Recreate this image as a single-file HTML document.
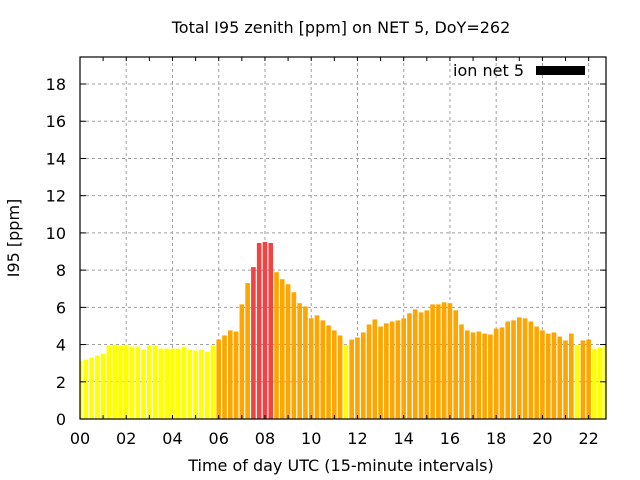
<!DOCTYPE html>
<html><head><meta charset="utf-8"><style>
body{margin:0;background:#fff}
svg{display:block;font-family:"DejaVu Sans","Liberation Sans",sans-serif}
</style></head><body>
<svg id="chart" width="640" height="480" xmlns="http://www.w3.org/2000/svg">
<text x="341" y="33" font-size="16" text-anchor="middle">Total I95 zenith [ppm] on NET 5, DoY=262</text>
<g id="grid"></g>
<g id="bars"></g>
<g id="axes"></g>
<text transform="translate(19,238) rotate(-90)" font-size="16" text-anchor="middle">I95 [ppm]</text>
<text x="341" y="471" font-size="16" text-anchor="middle">Time of day UTC (15-minute intervals)</text>
<g>
<text x="524" y="76" font-size="16" text-anchor="end">ion net 5</text>
<rect x="536" y="66" width="49" height="9" fill="#000"/>
</g>
</svg>
<script>
const values = [3.13,3.19,3.30,3.41,3.51,3.95,3.99,3.95,3.99,3.89,3.89,3.73,3.95,3.95,3.78,3.78,3.78,3.78,3.89,3.73,3.68,3.73,3.62,3.95,
4.27,4.49,4.76,4.70,6.16,7.30,8.16,9.46,9.51,9.46,7.89,7.51,7.24,6.81,6.22,6.05,5.41,5.57,5.30,5.03,4.76,4.49,3.99,4.27,4.38,4.65,5.08,5.35,4.97,5.14,5.24,5.30,5.41,5.68,5.89,5.73,
5.84,6.16,6.16,6.27,6.22,5.84,5.08,4.76,4.65,4.70,4.59,4.54,4.86,4.92,5.24,5.30,5.46,5.41,5.24,4.97,4.76,4.59,4.65,4.43,4.22,4.59,3.99,4.22,4.27,3.78,3.84,3.95];
const yTicks = [0,2,4,6,8,10,12,14,16,18];
const xTicks = [0,2,4,6,8,10,12,14,16,18,20,22];
const xTickLabels = ["00","02","04","06","08","10","12","14","16","18","20","22"];
const NS="http://www.w3.org/2000/svg";
const L=80,R=606,T=57,B=419;
const xMax=22.75, yPer=18.61;
const xs=h=>L+h*(R-L)/xMax;
const ys=v=>B-v*yPer;
function mk(tag,attrs,parent){const e=document.createElementNS(NS,tag);for(const k in attrs)e.setAttribute(k,attrs[k]);parent.appendChild(e);return e;}
const grid=document.getElementById('grid'),bars=document.getElementById('bars'),axes=document.getElementById('axes');
yTicks.forEach(v=>{
  if(v>0){const g=mk('line',{x1:L,x2:R,y1:ys(v),y2:ys(v),stroke:'#a0a0a0','stroke-dasharray':'3,3'},grid);
  
  }
  const t=mk('text',{x:L-14,y:ys(v)+6,'font-size':16,'text-anchor':'end'},axes);t.textContent=v;
  
  
  mk('line',{x1:L,x2:L+6,y1:ys(v),y2:ys(v),stroke:'#000'},axes);
  mk('line',{x1:R,x2:R-6,y1:ys(v),y2:ys(v),stroke:'#000'},axes);
});
xTicks.forEach((h,i)=>{
  if(h>0){const g=mk('line',{x1:xs(h),x2:xs(h),y1:T,y2:B,stroke:'#a0a0a0','stroke-dasharray':'3,3'},grid);
  
  }
  const t=mk('text',{x:xs(h),y:444,'font-size':16,'text-anchor':'middle'},axes);t.textContent=xTickLabels[i];
  
  
});
for(let h=1;h<xMax;h++){mk('line',{x1:xs(h),x2:xs(h),y1:T,y2:T+4,stroke:'#000'},axes);mk('line',{x1:xs(h),x2:xs(h),y1:B,y2:B-4,stroke:'#000'},axes);}
const bw=0.25*(R-L)/xMax*0.8;
values.forEach((v,i)=>{
  const cx=xs(i*0.25);
  const x0=Math.max(L,cx-bw/2), x1=Math.min(R,cx+bw/2);
  const col=v<4?'#ffff00':(v<8?'#ffa500':'#ef4444');
  const r=mk('rect',{x:x0,y:ys(v),width:x1-x0,height:B-ys(v),fill:col},bars);
  
  
});
const border=mk('rect',{x:L,y:T,width:R-L,height:B-T,fill:'none',stroke:'#000','stroke-width':1.2},axes);


</script>
</body></html>
